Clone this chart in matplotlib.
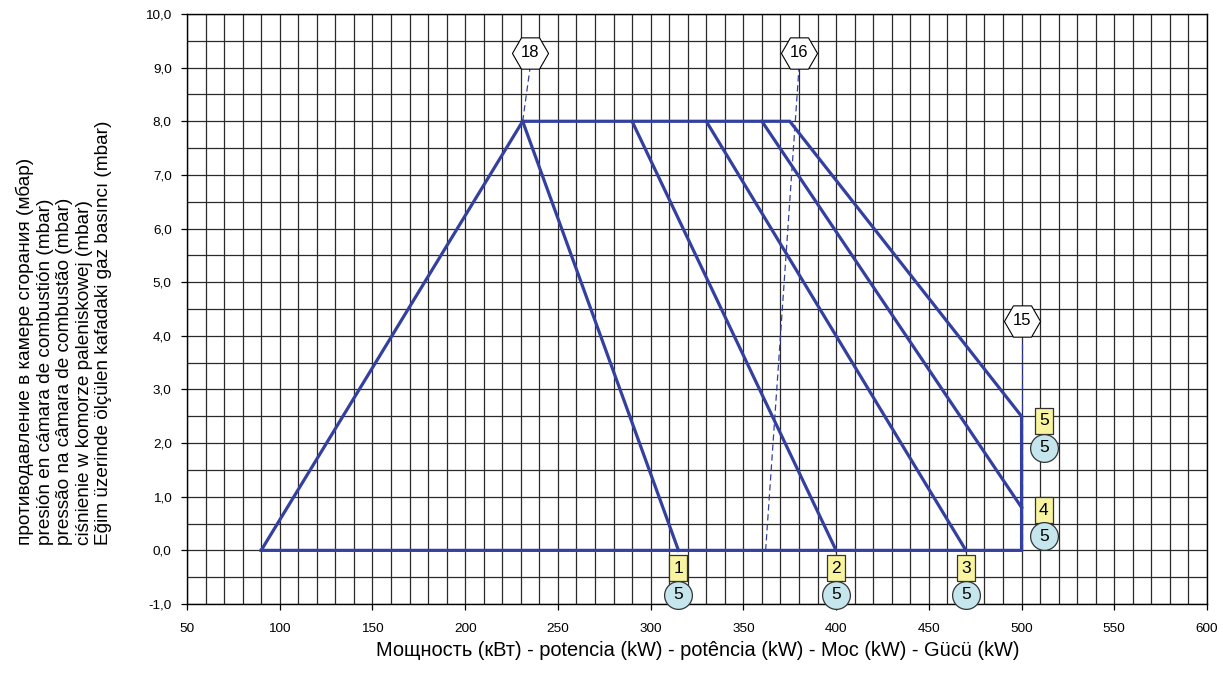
import matplotlib
matplotlib.use("Agg")
import matplotlib.pyplot as plt
import numpy as np

plt.rcParams['font.family'] = ['Liberation Sans', 'DejaVu Sans']

# ---- data ----
envelope_x = [90, 231, 375, 500, 500, 90]
envelope_y = [0.0, 8.0, 8.0, 2.5, 0.0, 0.0]

curve1_x = [231, 315]; curve1_y = [8.0, 0.0]
curve2_x = [290, 400]; curve2_y = [8.0, 0.0]
curve3_x = [330, 470]; curve3_y = [8.0, 0.0]
curve4_x = [360, 500]; curve4_y = [8.0, 0.8]

dash18_x = [231, 235]; dash18_y = [8.0, 9.0]
dash16_x = [362, 380]; dash16_y = [0.0, 9.0]
dash15_x = [500, 500]; dash15_y = [0.0, 3.95]

hex_labels = ['18', '16', '15']
hex_x = [235, 380, 500]
hex_y = [9.28, 9.28, 4.28]

square_labels = ['1', '2', '3', '5', '4']
square_x = [315, 400, 470, 512, 512]
square_y = [-0.33, -0.33, -0.33, 2.42, 0.75]

circle_labels = ['5', '5', '5', '5', '5']
circle_x = [315, 400, 470, 512, 512]
circle_y = [-0.83, -0.83, -0.83, 1.91, 0.26]

x_ticks = [50, 100, 150, 200, 250, 300, 350, 400, 450, 500, 550, 600]
y_ticks = [-1, 0, 1, 2, 3, 4, 5, 6, 7, 8, 9, 10]
y_tick_labels = ['-1,0', '0,0', '1,0', '2,0', '3,0', '4,0', '5,0', '6,0',
                 '7,0', '8,0', '9,0', '10,0']

y_label = ("противодавление в камере сгорания (мбар)\n"
           "presión en cámara de combustión (mbar)\n"
           "pressão na câmara de combustão (mbar)\n"
           "ciśnienie w komorze paleniskowej (mbar)\n"
           "Eğim üzerinde ölçülen kafadaki gaz basıncı (mbar)")
x_label = "Мощность (кВт) - potencia (kW) - potência (kW) - Moc (kW) - Gücü (kW)"

# ---- figure ----
W, H = 1223, 683
fig = plt.figure(figsize=(W / 100, H / 100), dpi=100)
ax = fig.add_axes([187 / W, 1 - 604 / H, (1207 - 187) / W, (604 - 14) / H])

ax.set_xlim(50, 600)
ax.set_ylim(-1, 10)
ax.set_xticks(x_ticks)
ax.set_xticks(np.arange(50, 601, 10), minor=True)
ax.set_yticks(y_ticks)
ax.set_yticklabels(y_tick_labels)
ax.set_yticks(np.arange(-1, 10.01, 0.5), minor=True)
ax.grid(which='both', color='#2a2a2a', linewidth=0.9)
ax.set_axisbelow(True)
ax.tick_params(which='major', direction='out', length=4, width=0.9,
               labelsize=9.7, colors='black')
ax.tick_params(axis='x', which='major', pad=10)
ax.tick_params(axis='y', which='major', pad=7)
ax.tick_params(which='minor', length=0)
for s in ax.spines.values():
    s.set_color('black')
    s.set_linewidth(1.0)

blue = '#3340A0'
lw = 2.3
ax.plot(envelope_x, envelope_y, color=blue, lw=lw, solid_joinstyle='miter', zorder=3)
for cx, cy in [(curve1_x, curve1_y), (curve2_x, curve2_y),
               (curve3_x, curve3_y), (curve4_x, curve4_y)]:
    ax.plot(cx, cy, color=blue, lw=lw, zorder=3)

for dx, dy in [(dash18_x, dash18_y), (dash16_x, dash16_y), (dash15_x, dash15_y)]:
    ax.plot(dx, dy, color=blue, lw=0.9, dashes=(5, 3), zorder=3)

for lab, hx, hy in zip(hex_labels, hex_x, hex_y):
    ax.plot(hx, hy, marker='H', markersize=26, markerfacecolor='white',
            markeredgecolor='black', markeredgewidth=0.8, zorder=5, clip_on=False)
    ax.text(hx, hy, lab, ha='center', va='center', fontsize=12, zorder=6)

rect_marker = [(-0.69, -1), (0.69, -1), (0.69, 1), (-0.69, 1), (-0.69, -1)]
for lab, sx, sy in zip(square_labels, square_x, square_y):
    ax.plot(sx, sy, marker=rect_marker, markersize=18.5, markerfacecolor='#F8F4A0',
            markeredgecolor='#333333', markeredgewidth=0.9, zorder=5, clip_on=False)
    ax.text(sx, sy, lab, ha='center', va='center', fontsize=12.5, zorder=6)

for lab, cx, cy in zip(circle_labels, circle_x, circle_y):
    ax.plot(cx, cy, marker='o', markersize=20, markerfacecolor='#C6E6EE',
            markeredgecolor='#333333', markeredgewidth=0.9, zorder=5, clip_on=False)
    ax.text(cx, cy, lab, ha='center', va='center', fontsize=12.5, zorder=6,
            clip_on=False)

fig.text(64 / W, 1 - 333 / H, y_label, rotation=90, ha='center', va='center',
         multialignment='left', fontsize=13.7, linespacing=1.2)
fig.text(698 / W, 1 - 650 / H, x_label, ha='center', va='center', fontsize=14.4)

fig.savefig('out.png', dpi=100)
